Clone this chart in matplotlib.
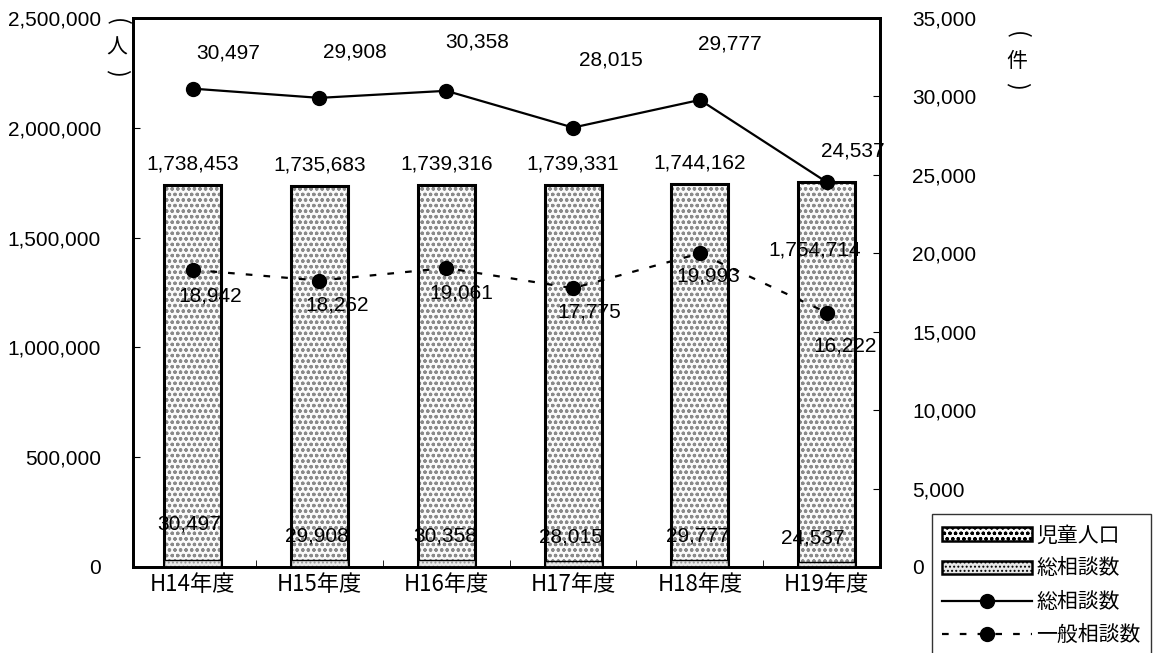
import matplotlib
matplotlib.use("Agg")
import matplotlib.pyplot as plt
from matplotlib.patches import Patch
from matplotlib.lines import Line2D

plt.rcParams['font.family'] = ['Noto Sans CJK JP', 'DejaVu Sans']
plt.rcParams['hatch.linewidth'] = 0.9

categories = ["H14年度", "H15年度", "H16年度", "H17年度", "H18年度", "H19年度"]
child_pop = [1738453, 1735683, 1739316, 1739331, 1744162, 1754714]
total_consult = [30497, 29908, 30358, 28015, 29777, 24537]
general_consult = [18942, 18262, 19061, 17775, 19993, 16222]
left_ticks = [0, 500000, 1000000, 1500000, 2000000, 2500000]
right_ticks = [0, 5000, 10000, 15000, 20000, 25000, 30000, 35000]

# label offsets in pixels (layout only)
tot_line_off = [(36, 36), (35, 46), (31, 49), (38, 68), (30, 56), (26, 31)]
gen_line_off = [(18, -26), (18, -24), (15, -25), (16, -24), (8, -23), (18, -33)]
pop_off = [(0, 21), (0, 21), (0, 21), (0, 21), (0, 21), (-12, -68)]
tot_bar_off = [(-3, 36), (-3, 24), (-1, 24), (-2, 24), (-2, 24), (-14, 24)]

W, H = 1154, 653
fig = plt.figure(figsize=(W / 100, H / 100), dpi=100)
ax = fig.add_axes([133 / W, 1 - 567 / H, (880 - 133) / W, (567 - 18) / H])
ax2 = ax.twinx()

x = list(range(len(categories)))
bw = 0.45
num_font = ['Liberation Sans', 'DejaVu Sans']

# child population bars (dotted hatch)
ax.bar(x, child_pop, width=bw, color="#fafafa", edgecolor="#8a8a8a", hatch="ooo", linewidth=0, zorder=1)
ax.bar(x, child_pop, width=bw, fill=False, edgecolor="black", linewidth=2.2, zorder=2)
# total consult bars on left axis (tiny)
ax.bar(x, total_consult, width=bw, color="#e8e8e8", edgecolor="#999999", hatch="....", linewidth=0, zorder=3)
ax.bar(x, total_consult, width=bw, fill=False, edgecolor="black", linewidth=1.0, zorder=3)

ax.set_xlim(-0.47, 5.42)
ax.set_ylim(0, 2500000)
ax.set_yticks(left_ticks)
ax.set_yticklabels([f"{v:,}" for v in left_ticks], fontsize=15, family=num_font)
ax.set_xticks(x)
ax.set_xticklabels(categories, fontsize=16)
ax.set_xticks([i + 0.5 for i in x[:-1]], minor=True)
ax.tick_params(axis='x', which='major', length=0, pad=4)
ax.tick_params(axis='x', which='minor', direction='in', length=5)
ax.tick_params(axis='y', direction='in', length=5, pad=23)
for s in ax.spines.values():
    s.set_linewidth(2)

ax2.set_ylim(0, 35000)
ax2.set_yticks(right_ticks)
ax2.set_yticklabels([f"{v:,}" for v in right_ticks], fontsize=15, family=num_font)
ax2.tick_params(axis='y', direction='in', length=5, pad=23)
for s in ax2.spines.values():
    s.set_linewidth(2)

ax2.plot(x, total_consult, color="black", linewidth=1.6, marker="o", markersize=10, zorder=5)
ax2.plot(x, general_consult, color="black", linewidth=1.6, linestyle=(0, (3, 5)), marker="o", markersize=10, zorder=5)

lab_font = dict(fontsize=15, family=num_font, ha='center', va='center')
for i in x:
    ax2.annotate(f"{total_consult[i]:,}", (i, total_consult[i]), xytext=tot_line_off[i],
                 textcoords='offset pixels', **lab_font)
    ax2.annotate(f"{general_consult[i]:,}", (i, general_consult[i]), xytext=gen_line_off[i],
                 textcoords='offset pixels', **lab_font)
    ax.annotate(f"{child_pop[i]:,}", (i, child_pop[i]), xytext=pop_off[i],
                textcoords='offset pixels', zorder=6, **lab_font)
    ax.annotate(f"{total_consult[i]:,}", (i, total_consult[i]), xytext=tot_bar_off[i],
                textcoords='offset pixels', zorder=6, **lab_font)

# vertical axis unit labels: （人） and （件）
def unit_label(xp, y_top, char):
    fig.text(xp / W, 1 - y_top / H, "(", fontsize=17, rotation=-90, ha='center', va='center')
    fig.text(xp / W, 1 - (y_top + 26) / H, char, fontsize=15, ha='center', va='center')
    fig.text(xp / W, 1 - (y_top + 51) / H, ")", fontsize=17, rotation=-90, ha='center', va='center')

unit_label(117, 22, "人")
unit_label(1017, 35, "件")

handles = [
    Patch(facecolor="#fafafa", edgecolor="black", hatch="ooo", linewidth=1.8),
    Patch(facecolor="#e8e8e8", edgecolor="black", hatch="....", linewidth=1.8),
    Line2D([0], [0], color="black", linewidth=1.6, marker="o", markersize=10),
    Line2D([0], [0], color="black", linewidth=1.6, linestyle=(0, (3, 5)), marker="o", markersize=10),
]
labels = ["児童人口", "総相談数", "総相談数", "一般相談数"]
leg = fig.legend(handles, labels, loc='upper left', bbox_to_anchor=(932 / W, 1 - 514 / H),
                 fontsize=15, frameon=True, fancybox=False, edgecolor="black",
                 handlelength=4.3, handleheight=0.6, handletextpad=0.2, borderpad=0.5,
                 labelspacing=0.53, borderaxespad=0)
leg.get_frame().set_linewidth(1.0)

fig.savefig("out.png", dpi=100)
